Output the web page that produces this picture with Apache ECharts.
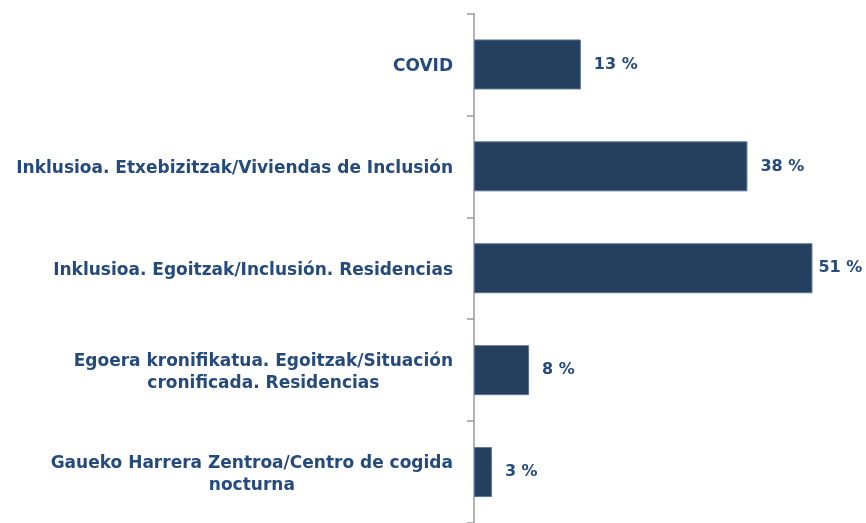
<!DOCTYPE html>
<html>
<head>
<meta charset="utf-8">
<script src="https://cdn.jsdelivr.net/npm/echarts@6/dist/echarts.min.js"></script>
<style>
  html, body { margin: 0; padding: 0; background: #fff; }
  #chart { width: 866px; height: 523px; }
</style>
</head>
<body>
<div id="chart"></div>
<script>
// categories top to bottom
const categories = [
    'COVID',
    'Inklusioa. Etxebizitzak/Viviendas de Inclusión',
    'Inklusioa. Egoitzak/Inclusión. Residencias',
    'Egoera kronifikatua. Egoitzak/Situación\ncronificada. Residencias',
    'Gaueko Harrera Zentroa/Centro de cogida\nnocturna'
]
// bar lengths as drawn
const barValues = [16.1, 41.2, 51, 8.3, 2.7]
// percentage labels printed next to the bars
const pctLabels = [13, 38, 51, 8, 3]

const textColor = '#254A7C'
const fontFamily = '"DejaVu Sans", sans-serif'

const myChart = echarts.init(document.getElementById('chart'))
const maxIdx = barValues.indexOf(Math.max(...barValues))

myChart.setOption({
    animation: false,
    grid: { left: 474, right: 27, top: 13.5, bottom: -3, containLabel: false },
    xAxis: { type: 'value', min: 0, max: 55, show: false },
    yAxis: {
        type: 'category',
        inverse: true,
        data: categories,
        axisLine: { show: true, lineStyle: { color: '#9a9a9a', width: 1.5 } },
        axisTick: { show: true, inside: false, length: 7, lineStyle: { color: '#9a9a9a', width: 1.5 } },
        axisLabel: {
            margin: 21,
            padding: [5, 0, 0, 0],
            formatter: function (v) {
                return v.split('\n').map(s => '{c|' + s + '}').join('\n')
            },
            rich: {
                c: {
                    align: 'center',
                    color: textColor,
                    fontFamily: fontFamily,
                    fontWeight: 'bold',
                    fontSize: 17,
                    lineHeight: 22
                }
            }
        }
    },
    series: [{
        type: 'bar',
        barWidth: 50,
        data: barValues.map((v, i) => ({
            value: v,
            label: { distance: i === maxIdx ? 6 : 13 }
        })),
        itemStyle: { color: '#253F5F', borderColor: '#5A7596', borderWidth: 1 },
        label: {
            show: true,
            position: 'right',
            padding: [4, 0, 0, 0],
            color: textColor,
            fontFamily: fontFamily,
            fontWeight: 'bold',
            fontSize: 16,
            formatter: p => pctLabels[p.dataIndex] + ' %'
        }
    }]
})
</script>
</body>
</html>
